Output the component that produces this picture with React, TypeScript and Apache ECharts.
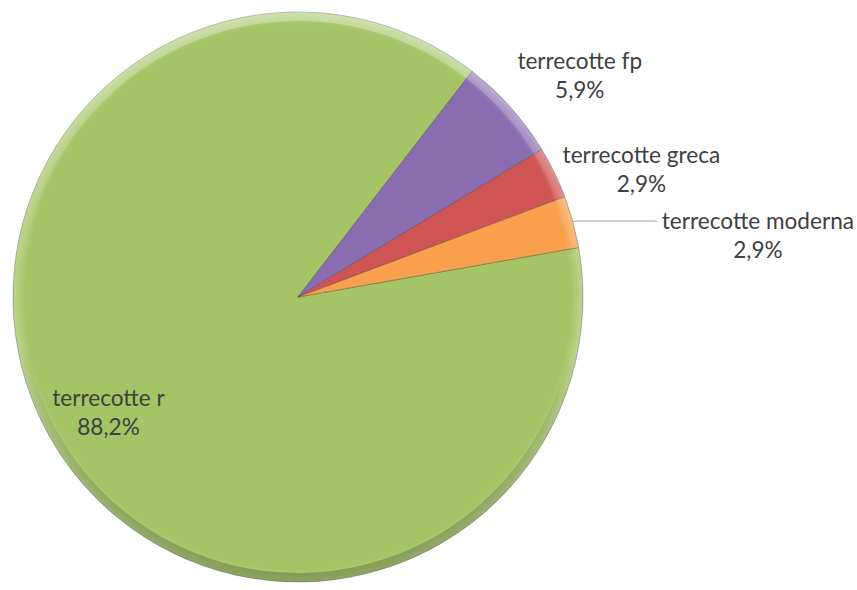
import React, { useEffect, useRef } from 'react';
import * as echarts from 'echarts';

const categories = ['terrecotte r', 'terrecotte fp', 'terrecotte greca', 'terrecotte moderna'];
const values = [30, 2, 1, 1];
const sliceColors = ['#a4c465', '#8a6cb0', '#cf5554', '#f8a04c'];

export default function App() {
  const ref = useRef<HTMLDivElement>(null);

  useEffect(() => {
    document.body.style.margin = '0';
    const chart = echarts.init(ref.current!, null, { renderer: 'svg' });

    const cx = 298;
    const cy = 297;
    const R = 285;

    const fmt = (p: any) =>
      `{n|${p.name}}\n{n|${p.percent.toFixed(1).replace('.', ',')}%}`;

    const rich = {
      n: {
        fontFamily: 'Lato',
        fontSize: 22.6,
        lineHeight: 29,
        color: '#404040',
        align: 'center',
      },
    };

    // per-slice label placement (style)
    const labelCfg: any[] = [
      { label: { show: false }, labelLine: { show: false } },
      { label: { show: true, distanceToLabelLine: -29 }, labelLine: { show: false, length: 48, length2: 0 } },
      { label: { show: true, distanceToLabelLine: 1 }, labelLine: { show: false, length: 8, length2: 0 } },
      {
        label: { show: true, distanceToLabelLine: 5, padding: [28, 0, 0, 0] },
        labelLine: { show: true, length: 3, length2: 81, lineStyle: { color: '#a6a6a6', width: 1 } },
      },
    ];

    const mainData = categories.map((name, i) => ({
      name,
      value: values[i],
      itemStyle: {
        color: new echarts.graphic.RadialGradient(
          cx,
          cy,
          R,
          [
            { offset: 0, color: sliceColors[i] },
            { offset: 0.955, color: sliceColors[i] },
            { offset: 1, color: echarts.color.lift(sliceColors[i], 0.28) },
          ],
          true
        ),
      },
      ...labelCfg[i],
    }));

    const plainData = categories.map((name, i) => ({
      name,
      value: values[i],
      label: { show: false },
    }));

    const innerLabelData = categories.map((name, i) => ({
      name,
      value: values[i],
      label: { show: i === 0 },
    }));

    chart.setOption({
      animation: false,
      series: [
        {
          type: 'pie',
          center: [cx, cy],
          radius: [0, R],
          startAngle: 10,
          clockwise: true,
          avoidLabelOverlap: false,
          silent: true,
          itemStyle: {
            borderWidth: 1,
            borderColor: 'rgba(40,40,40,0.3)',
          },
          label: {
            position: 'outside',
            formatter: fmt,
            rich,
            edgeDistance: 0,
          },
          data: mainData,
        },
        {
          // bevel rim: light at the top, dark at the bottom
          type: 'pie',
          center: [cx, cy],
          radius: [R - 9, R],
          startAngle: 10,
          clockwise: true,
          avoidLabelOverlap: false,
          silent: true,
          itemStyle: {
            borderWidth: 0,
            color: new echarts.graphic.LinearGradient(
              0,
              cy - R,
              0,
              cy + R,
              [
                { offset: 0, color: 'rgba(255,255,255,0.3)' },
                { offset: 0.45, color: 'rgba(255,255,255,0)' },
                { offset: 0.6, color: 'rgba(0,0,0,0)' },
                { offset: 1, color: 'rgba(30,50,0,0.3)' },
              ],
              true
            ),
          },
          label: { show: false },
          labelLine: { show: false },
          data: plainData,
        },
        {
          type: 'pie',
          center: [cx, cy],
          radius: [152, R],
          startAngle: 10,
          clockwise: true,
          avoidLabelOverlap: false,
          silent: true,
          itemStyle: { color: 'rgba(0,0,0,0)', borderWidth: 0 },
          label: {
            position: 'inside',
            formatter: fmt,
            rich,
          },
          labelLine: { show: false },
          data: innerLabelData,
        },
      ],
    });

    return () => chart.dispose();
  }, []);

  return <div ref={ref} style={{ width: 857, height: 590 }} />;
}
